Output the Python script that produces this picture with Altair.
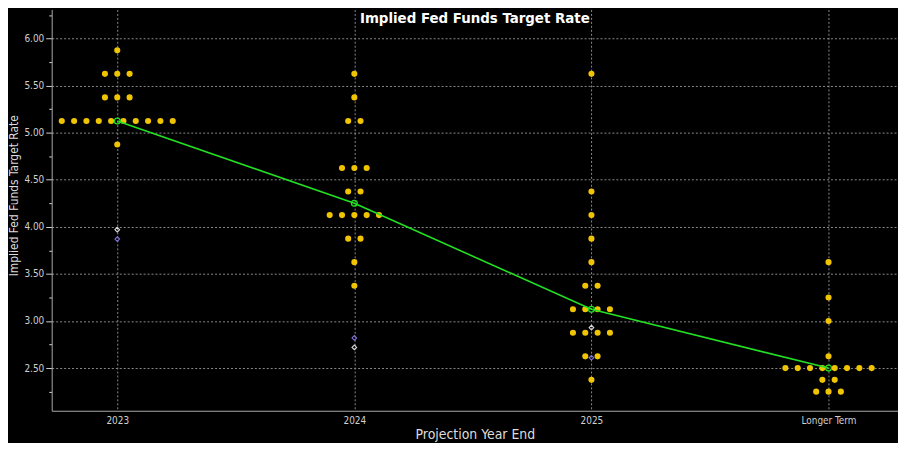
import json
import altair as alt
import pandas as pd

categories = ["2023", "2024", "2025", "Longer Term"]

# FOMC dot plot: rate levels and number of participants at each level
rates_2023 = [5.875, 5.625, 5.375, 5.125, 4.875]
counts_2023 = [1, 3, 3, 10, 1]
rates_2024 = [5.625, 5.375, 5.125, 4.625, 4.375, 4.125, 3.875, 3.625, 3.375]
counts_2024 = [1, 1, 2, 3, 2, 5, 2, 1, 1]
rates_2025 = [5.625, 4.375, 4.125, 3.875, 3.625, 3.375, 3.125, 2.875, 2.625, 2.375]
counts_2025 = [1, 1, 1, 1, 1, 2, 4, 4, 2, 1]
rates_lt = [3.625, 3.25, 3.0, 2.625, 2.5, 2.375, 2.25]
counts_lt = [1, 1, 1, 1, 8, 2, 3]

medians = [5.125, 4.25, 3.125, 2.5]

market_white = [3.97, 2.72, 2.93]
market_purple = [3.87, 2.82, 2.61]

FONT = "DejaVu Sans Condensed, Liberation Sans Narrow, DejaVu Sans"
YELLOW = "#f0c400"
GREEN = "#22e022"
SPACING = 0.052  # horizontal spread of dots sharing a level (x units)

rows = []
for ci, (rates, counts) in enumerate(
    [(rates_2023, counts_2023), (rates_2024, counts_2024),
     (rates_2025, counts_2025), (rates_lt, counts_lt)]
):
    for r, n in zip(rates, counts):
        for k in range(n):
            rows.append({"x": ci + (k - (n - 1) / 2) * SPACING, "rate": r,
                         "cat": categories[ci]})
dots = pd.DataFrame(rows)

med = pd.DataFrame({"x": list(range(len(medians))), "rate": medians,
                    "cat": categories})

mk = pd.DataFrame(
    [{"x": i, "rate": v, "series": "A"} for i, v in enumerate(market_white)]
    + [{"x": i, "rate": v, "series": "B"} for i, v in enumerate(market_purple)]
)

label_expr = json.dumps(categories) + "[datum.value]"
xscale = alt.Scale(domain=[-0.2765, 3.293], nice=False, zero=False)
yscale = alt.Scale(domain=[2.047, 6.309], nice=False, zero=False)

major = "datum.value % 0.5 == 0"
yaxis = alt.Axis(
    title="Implied Fed Funds Target Rate",
    values=[2.25 + 0.25 * i for i in range(17)],
    labelExpr=f"{major} ? format(datum.value, '.2f') : ''",
    tickSize={"condition": {"test": major, "value": 6}, "value": 3},
    gridOpacity={"condition": {"test": major, "value": 1}, "value": 0},
    labelPadding=2,
    titleX=-38,
    titleY=187,
    titleAngle=-90,
    titleAlign="center",
    titleBaseline="middle",
    titleFontSize=12,
)
xaxis = alt.Axis(
    title="Projection Year End",
    values=[0, 1, 2, 3],
    labelExpr=label_expr,
    ticks=False,
    labelPadding=5,
    titlePadding=2,
    titleFontSize=14,
)

X = alt.X("x:Q", scale=xscale, axis=xaxis)
Y = alt.Y("rate:Q", scale=yscale, axis=yaxis)

dots_layer = alt.Chart(dots).mark_circle(size=38, color=YELLOW, opacity=1).encode(x=X, y=Y)
line_layer = alt.Chart(med).mark_line(color=GREEN, strokeWidth=1.6).encode(x=X, y=Y)
med_pts = alt.Chart(med).mark_point(
    shape="circle", filled=False, color=GREEN, size=34, strokeWidth=1.3, opacity=1
).encode(x=X, y=Y)
mk_layer = alt.Chart(mk).mark_point(
    shape="diamond", filled=False, size=22, strokeWidth=1.1, opacity=1
).encode(
    x=X, y=Y,
    color=alt.Color("series:N", scale=alt.Scale(domain=["A", "B"], range=["#d8d8d8", "#7f72d8"]),
                    legend=None),
)

chart = (
    alt.layer(dots_layer, line_layer, med_pts, mk_layer)
    .properties(
        width=852,
        height=404,
        autosize=alt.AutoSizeParams(type="none"),
        padding={"left": 44, "top": 0, "right": 0, "bottom": 31},
        title=alt.Title("Implied Fed Funds Target Rate", fontSize=15, fontWeight="bold",
                        color="white", font=FONT, offset=-17, anchor="middle"),
    )
    .configure(background="black")
    .configure_view(stroke=None)
    .configure_axis(
        domainColor="#a8a8a8",
        domainWidth=1,
        tickColor="#d0d0d0",
        gridColor="#8a8a8a",
        gridDash=[2, 2],
        gridWidth=1,
        labelColor="#cfcfcf",
        labelFont=FONT,
        labelFontSize=10,
        titleColor="#dcdcdc",
        titleFont=FONT,
        titleFontWeight="normal",
    )
)

chart.save("out.html", embed_options={"renderer": "svg", "actions": False})
